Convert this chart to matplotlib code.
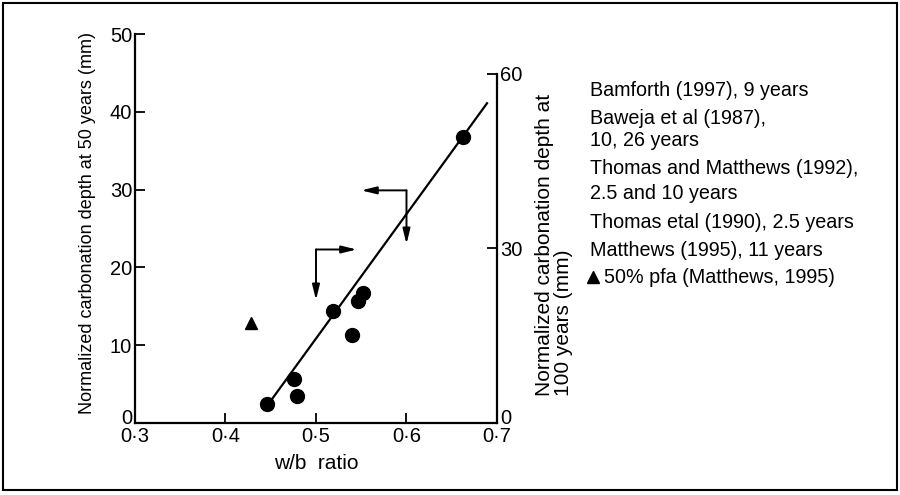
import matplotlib
matplotlib.use('Agg')
import matplotlib.pyplot as plt
import matplotlib.transforms as mtransforms
from matplotlib.lines import Line2D
from matplotlib.patches import Rectangle

plt.rcParams['font.family'] = ['Liberation Sans', 'DejaVu Sans']

# dane - punkty pomiarowe (w/b, glebokosc karbonatyzacji po 50 latach)
wb = [0.446, 0.476, 0.479, 0.519, 0.540, 0.546, 0.552, 0.662]
glebokosc = [2.5, 5.6, 3.5, 14.4, 11.3, 15.7, 16.7, 36.8]

# 50% pfa
wb_pfa = [0.428]
glebokosc_pfa = [12.9]

# linia trendu
linia_x = [0.4507, 0.689]
linia_y = [2.96, 41.1]

# strzalki: naroznik i dwa groty
strzalki = [
    ((0.5, 22.3), (0.545, 22.3), (0.5, 15.8)),
    ((0.6, 29.9), (0.55, 29.9), (0.6, 23.0)),
]

x_ticks = [0.3, 0.4, 0.5, 0.6, 0.7]
x_etykiety = ['0·3', '0·4', '0·5', '0·6', '0·7']
y_ticks = [0, 10, 20, 30, 40, 50]
y2_ticks = [0, 30, 60]

legenda = [
    ('Bamforth (1997), 9 years', 90.7),
    ('Baweja et al (1987),', 119),
    ('10, 26 years', 140),
    ('Thomas and Matthews (1992),', 168.7),
    ('2.5 and 10 years', 193.3),
    ('Thomas etal (1990), 2.5 years', 222),
    ('Matthews (1995), 11 years', 250),
]

W, H = 900, 495
fig = plt.figure(figsize=(9, 4.95), dpi=100)
ax = fig.add_axes([0.15, 0.1455, 0.4022, 0.7858])

ax.plot(linia_x, linia_y, color='k', lw=1.6)
ax.plot(wb, glebokosc, 'o', color='k', ms=10)
ax.plot(wb_pfa, glebokosc_pfa, '^', color='k', ms=8)

for naroznik, grot1, grot2 in strzalki:
    for grot in (grot1, grot2):
        ax.annotate('', xy=grot, xytext=naroznik,
                    arrowprops=dict(arrowstyle='-|>,head_length=0.9,head_width=0.22',
                                    lw=1.4, color='k', shrinkA=0, shrinkB=0))

ax.set_xlim(0.3, 0.7)
ax.set_ylim(0, 50)
ax.set_xticks(x_ticks)
ax.set_xticklabels(x_etykiety)
ax.set_yticks(y_ticks)
ax.tick_params(direction='in', length=7, width=1.3, labelsize=14.5, pad=2)
ax.tick_params(axis='x', pad=3)
ax.spines['top'].set_visible(False)
ax.spines['right'].set_visible(False)
for s in ('left', 'bottom'):
    ax.spines[s].set_linewidth(1.6)
ax.set_xlabel('w/b  ratio', fontsize=15, labelpad=6)

# prawa os - 100 lat
ax2 = ax.twinx()
ax2.set_ylim(0, 60 * 50 / 44.86)
ax2.set_yticks(y2_ticks)
ax2.spines['right'].set_bounds(0, 60)
ax2.spines['right'].set_linewidth(1.6)
for s in ('top', 'left', 'bottom'):
    ax2.spines[s].set_visible(False)
ax2.tick_params(direction='in', length=7, width=1.3, labelsize=14.5, pad=2)

# etykiety "0" lekko w gore, zeby nie nachodzily na opisy osi x
fig.canvas.draw()
przesun = mtransforms.ScaledTranslation(0, 5 / 72, fig.dpi_scale_trans)
for os_y in (ax.yaxis, ax2.yaxis):
    for tick in os_y.get_major_ticks():
        if tick.get_loc() == 0:
            for lab in (tick.label1, tick.label2):
                lab.set_transform(lab.get_transform() + przesun)

# opisy osi
fig.text(88 / W, 1 - 223 / H, 'Normalized carbonation depth at 50 years (mm)',
         rotation=90, ha='center', va='center', fontsize=13)
fig.text(535 / W, 1 - 396 / H, 'Normalized carbonation depth at\n100 years (mm)',
         rotation=90, ha='left', va='bottom', multialignment='left',
         fontsize=15, linespacing=1.0)

# legenda
for tekst, y in legenda:
    fig.text(590 / W, 1 - y / H, tekst, ha='left', va='center', fontsize=14.2)
fig.add_artist(Line2D([593 / W], [1 - 277 / H], marker='^', color='k', ms=8,
                      transform=fig.transFigure))
fig.text(604 / W, 1 - 277.3 / H, '50% pfa (Matthews, 1995)', ha='left',
         va='center', fontsize=14.2)

# ramka
fig.add_artist(Rectangle((3 / W, 5 / H), 894 / W, 487 / H, fill=False,
                         lw=1.5, color='k', transform=fig.transFigure))

fig.savefig('out.png', dpi=100)
